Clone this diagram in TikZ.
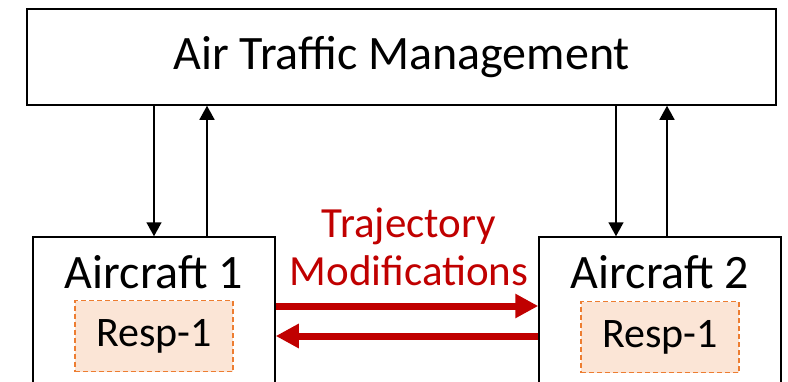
\documentclass[tikz,border=0pt]{standalone}
\usepackage{fontspec}
\setmainfont{Carlito}
\usetikzlibrary{arrows.meta}
\definecolor{darkred}{HTML}{C00000}
\definecolor{respline}{HTML}{ED7D31}
\definecolor{respfill}{HTML}{FBE5D6}
\tikzset{
  box/.style={draw,line width=1.5pt,font=\fontsize{48}{52}\selectfont},
  respbox/.style={draw=respline,fill=respfill,dashed,dash pattern=on 5pt off 3pt,line width=1.3pt,
    minimum width=158pt,minimum height=71pt,font=\fontsize{42}{46}\selectfont},
  arr/.style={-{Triangle[width=15pt,length=14pt]},line width=1.5pt},
  redarr/.style={-{Triangle[width=23pt,length=23pt]},line width=7pt,darkred}
}
\begin{document}
\begin{tikzpicture}[x=1pt,y=-1pt]
            \useasboundingbox (0,0) rectangle (788,381);
            \clip (0,0) rectangle (788,381);
            \node[box,minimum width=749pt,minimum height=96pt] (atm) at (401.5,57) {Air Traffic Management};
            \node[box,minimum width=242pt,minimum height=170pt] (ac1) at (154,322) {};
            \node[box,minimum width=242pt,minimum height=170pt] (ac2) at (660,322) {};
            \node[font=\fontsize{48}{52}\selectfont] (ac1name) at (154,272) {Aircraft 1};
            \node[font=\fontsize{48}{52}\selectfont] (ac2name) at (660,272) {Aircraft 2};
            \node[respbox] (resp1) at (154,336) {Resp-1};
            \node[respbox] (resp2) at (660,337) {Resp-1};
            \draw[arr] (atm.south -| ac1.north) -- (ac1.north);
            \draw[arr] ([xshift=53pt]ac1.north) -- ([xshift=53pt]ac1.north |- atm.south);
            \draw[arr] ([xshift=-44pt]ac2.north |- atm.south) -- ([xshift=-44pt]ac2.north);
            \draw[arr] ([xshift=7pt]ac2.north) -- ([xshift=7pt]ac2.north |- atm.south);
            \draw[redarr] ([yshift=16pt]ac1.east) -- ([yshift=16pt]ac2.west);
            \draw[redarr] ([yshift=-14pt]ac2.west) -- ([yshift=-14pt]ac1.east);
            \node[darkred,align=center,font=\fontsize{43}{48}\selectfont] (traj) at (409,247) {Trajectory\\Modifications};
        \end{tikzpicture}
\end{document}
